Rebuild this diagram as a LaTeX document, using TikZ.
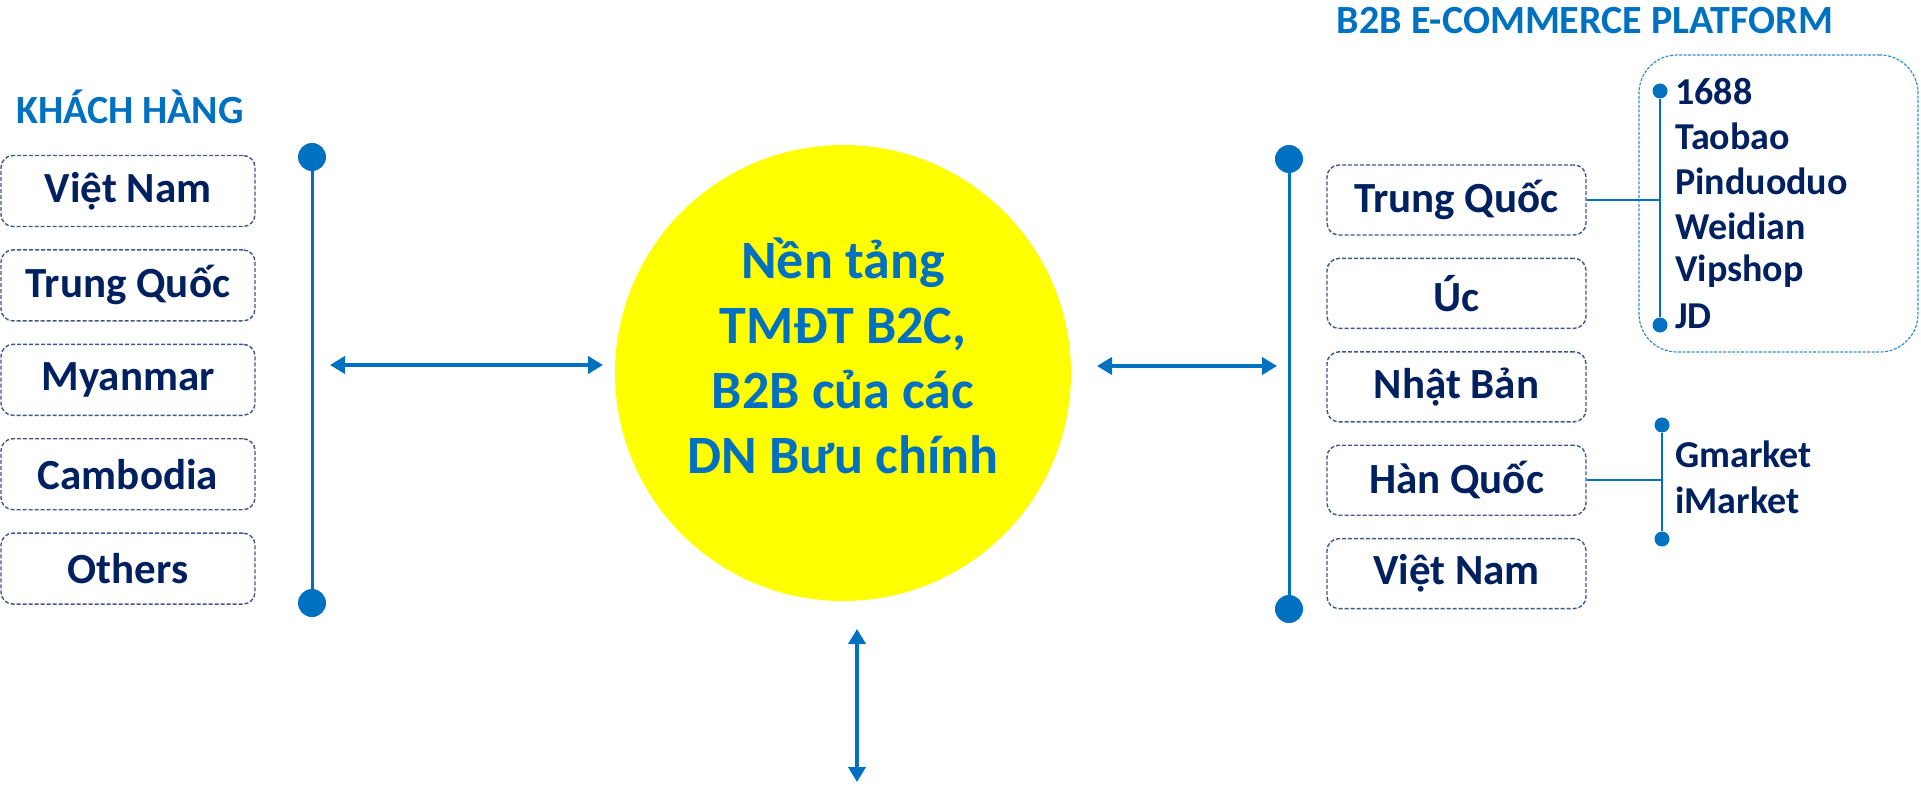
\documentclass[tikz,border=0pt]{standalone}
\usepackage{fontspec}
\setmainfont{Carlito}
\usetikzlibrary{arrows.meta,positioning}
\definecolor{vnblue}{RGB}{0,112,192}
\definecolor{vnnavy}{RGB}{0,32,96}
\definecolor{vnyellow}{RGB}{255,255,0}

\begin{document}
\begin{tikzpicture}[x=1pt,y=-1pt,
      node distance=22pt,
      cbox/.style={draw=vnnavy!75,dash pattern=on 4pt off 2pt,rounded corners=12pt,line width=1.4pt,
        minimum width=254pt,minimum height=71pt,inner sep=0pt,text=vnnavy,font=\fontsize{43}{48}\selectfont\bfseries},
      pbox/.style={cbox,minimum width=259pt,minimum height=70pt},
      dot/.style={circle,fill=vnblue,inner sep=0pt,minimum size=28pt},
      sdot/.style={circle,fill=vnblue,inner sep=0pt,minimum size=15pt},
      vline/.style={vnblue,line width=3pt},
      item/.style={anchor=west,inner sep=0pt,text=vnnavy,font=\fontsize{38}{44}\selectfont\bfseries},
      ttl/.style={text=vnblue,font=\fontsize{40}{46}\selectfont\bfseries},
      link/.style={vnblue,line width=4pt,<->},
      >={Triangle[length=15pt,width=17pt]}]
    \useasboundingbox (0,0) rectangle (1921,786);
    % khach hang
    \node[ttl] (khtitle) at (130,107) {KHÁCH HÀNG};
    \node[cbox] (kvn) at (128,191) {Việt Nam};
    \node[cbox,below=of kvn] (kcn) {Trung Quốc};
    \node[cbox,below=of kcn] (kmm) {Myanmar};
    \node[cbox,below=of kmm] (kkh) {Cambodia};
    \node[cbox,below=of kkh] (kot) {Others};
    \node[dot] (ltop) at (312,157) {};
    \node[dot] (lbot) at (312,603) {};
    \draw[vline] (ltop)--(lbot);
    % center
    \node[circle,fill=vnyellow,minimum size=456pt,inner sep=0pt] (hub) at (843,373) {};
    \node[anchor=base,align=center,text=vnblue,font=\fontsize{54}{65}\selectfont\bfseries] (hubtxt) at (843,473)
      {Nền tảng\\TMĐT B2C,\\B2B của các\\DN Bưu chính};
    \coordinate (la) at (330,365); \coordinate (lb) at (603,365);
    \coordinate (ra) at (1097,366); \coordinate (rb) at (1277,366);
    \coordinate (da) at (857,629); \coordinate (db) at (857,782);
    \draw[link] (la)--(lb); \draw[link] (ra)--(rb); \draw[link] (da)--(db);
    % platform
    \node[ttl] (ptitle) at (1585,21) {B2B E-COMMERCE PLATFORM};
    \node[pbox] (pcn) at (1456.5,200) {Trung Quốc};
    \node[pbox,below=of pcn] (pau) {Úc};
    \node[pbox,below=of pau] (pjp) {Nhật Bản};
    \node[pbox,below=of pjp] (pkr) {Hàn Quốc};
    \node[pbox,below=of pkr] (pvn) {Việt Nam};
    \node[dot] (rtop) at (1289,159) {};
    \node[dot] (rbot) at (1289,609) {};
    \draw[vline] (rtop)--(rbot);
    \node[draw=vnblue!80,dash pattern=on 3pt off 1.5pt,line width=1.2pt,rounded corners=38pt,
      minimum width=279pt,minimum height=297pt] (plat) at (1778.5,203.5) {};
    \node[sdot] (ctop) at (1660,91) {};
    \node[sdot] (cbot) at (1660,325) {};
    \draw[vline,line width=2.5pt] (ctop)--(cbot);
    \draw[vnblue,line width=2.5pt] (pcn.east)--(pcn.east-|ctop);
    \foreach \t [count=\i from 0] in {1688,Taobao,Pinduoduo,Weidian,Vipshop,JD}
      \node[item] (cn\i) at (1675,{92+44.8*\i}) {\t};
    \node[sdot] (ktop) at (1662,425) {};
    \node[sdot] (kbot) at (1662,539) {};
    \draw[vline,line width=2.5pt] (ktop)--(kbot);
    \draw[vnblue,line width=2.5pt] (pkr.east)--(pkr.east-|ktop);
    \node[item] (kr1) at (1675,454) {Gmarket};
    \node[item] (kr2) at (1675,500) {iMarket};
  \end{tikzpicture}
\end{document}
